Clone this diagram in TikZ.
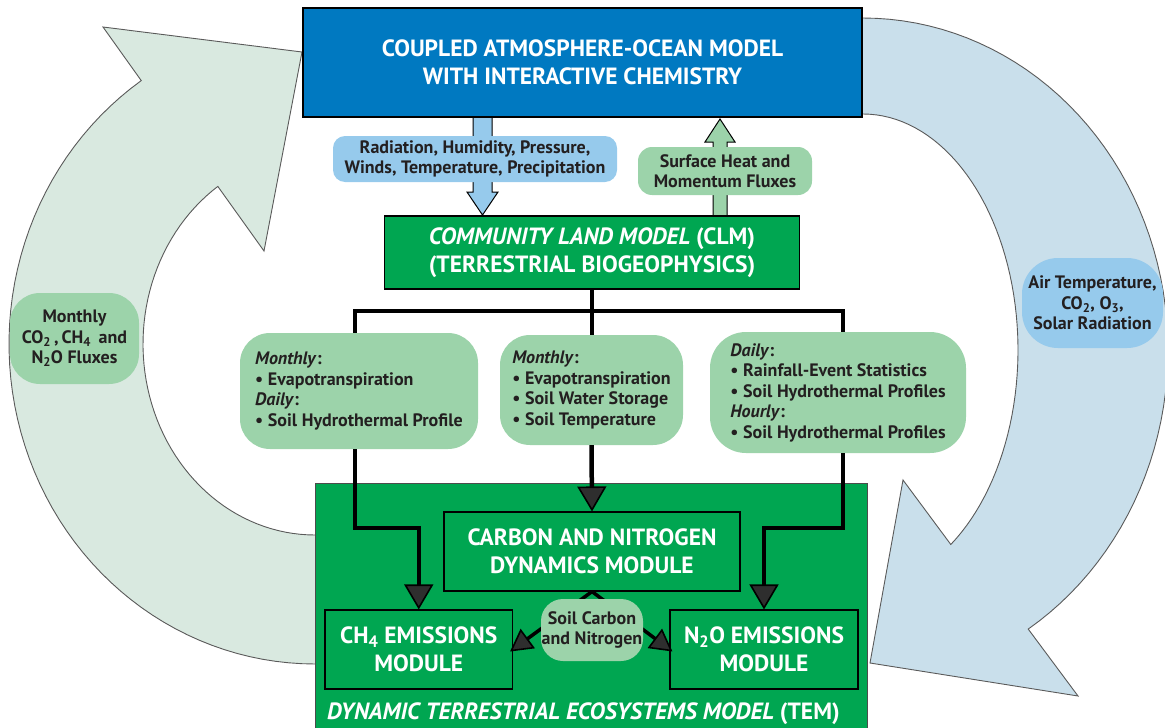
\documentclass[tikz,border=0pt]{standalone}
\usepackage{fontspec}
\setmainfont{PT Sans}
\usetikzlibrary{arrows.meta}
\definecolor{atmblue}{HTML}{0079C1}
\definecolor{modgreen}{HTML}{00A651}
\definecolor{lgreen}{HTML}{9CD3AA}
\definecolor{lblue}{HTML}{96CAEC}
\definecolor{larrow}{HTML}{D9E9E0}
\definecolor{rarrow}{HTML}{C9DFEB}
\definecolor{ink}{HTML}{231F20}
\definecolor{outl}{HTML}{5A5A5A}
\newcommand\bigfont{\fontsize{23.5}{28}\selectfont\bfseries}
\newcommand\smallfont{\fontsize{18}{20.5}\selectfont\bfseries}
\newcommand\tinyfont{\fontsize{18}{20.5}\selectfont\bfseries}
\begin{document}
\begin{tikzpicture}[x=1pt,y=-1pt,
  topbox/.style={draw=black, line width=2pt, fill=atmblue, text=white, font=\bigfont, align=center, inner sep=0pt},
  clmbox/.style={draw=black, line width=1.5pt, fill=modgreen, text=white, font=\bigfont, align=center, inner sep=0pt},
  modbox/.style={draw=black, line width=1.1pt, fill=modgreen, text=white, font=\bigfont, align=center, inner sep=0pt},
  glab/.style={fill=lgreen, text=ink, font=\smallfont, inner sep=0pt},
  blab/.style={fill=lblue, text=ink, font=\smallfont, inner sep=0pt},
  bigarrow/.style={fill=#1, draw=outl, line width=0.9pt, line join=miter},
  fatarrow/.style={fill=#1, draw=black, line width=1pt, line join=miter},
  conn/.style={draw=black, line width=4.5pt},
  flowarr/.style={draw=black, line width=4.5pt, line join=miter, -{Triangle[length=25pt,width=29pt,fill=black!82,line width=1.6pt]}},
  soilarr/.style={draw=black, line width=3.5pt, -{Triangle[length=22pt,width=24pt,fill=black!82,line width=1.6pt]}}
]
\useasboundingbox (0,0) rectangle (1165,728);

% big curved feedback arrows
\path[bigarrow=larrow] (318,664)
  -- plot[domain=90:235.4,samples=60] ({315+306*cos(\x)},{344+320*sin(\x)})
  -- (103,27) -- (302,52) -- (264,251)
  -- plot[domain=235.6:90,samples=60] ({315+172*cos(\x)},{344+191*sin(\x)})
  -- (318,535) -- cycle;
\path[bigarrow=rarrow] (860,18)
  -- plot[domain=-90:57.2,samples=60] ({863+305*cos(\x)},{350+332*sin(\x)})
  -- (1078,696) -- (870,663) -- (903,480)
  -- plot[domain=55.5:-90,samples=60] ({863+155*cos(\x)},{350+236*sin(\x)})
  -- (860,114) -- cycle;

% fat exchange arrows between atmosphere model and CLM
\path[fatarrow=lblue] (473,117) -- (492,117) -- (492,192) -- (498,192) -- (482.5,215) -- (467,192) -- (473,192) -- cycle;
\path[fatarrow=lgreen] (713,216) -- (727,216) -- (727,142) -- (735,142) -- (720,119) -- (705,142) -- (713,142) -- cycle;

% top model
\node[topbox, minimum width=559pt, minimum height=109pt] (atm) at (582.5,62.5)
  {COUPLED ATMOSPHERE-OCEAN MODEL\\WITH INTERACTIVE CHEMISTRY};

\node[blab, rounded corners=12pt, minimum width=284pt, minimum height=46pt, align=center] (rad) at (475,159)
  {Radiation, Humidity, Pressure,\\Winds, Temperature, Precipitation};
\node[glab, rounded corners=14pt, minimum width=174pt, minimum height=48pt, align=center] (surf) at (725,171)
  {Surface Heat and\\Momentum Fluxes};

\node[clmbox, minimum width=415pt, minimum height=73pt] (clm) at (592,252.5)
  {\textit{COMMUNITY LAND MODEL} (CLM)\\(TERRESTRIAL BIOGEOPHYSICS)};

% tree connectors
\coordinate (j) at (592,311);
\coordinate (jl) at (355,311);
\coordinate (jr) at (843,311);
\draw[conn] (clm.south) -- (j);
\draw[conn, line cap=rect] (jl) -- (jr);
\draw[conn] (jl) -- (jl |- 0,340);
\draw[conn] (jr) -- (jr |- 0,340);
\draw[conn] (j) -- (592,340);

% exchange boxes
\node[glab, rounded corners=30pt, minimum width=238pt, minimum height=116pt, align=left] (lbox) at (359,391)
  {\textit{Monthly}:\\\textbullet\ Evapotranspiration\\\textit{Daily}:\\\textbullet\ Soil Hydrothermal Profile};
\node[glab, rounded corners=30pt, minimum width=183pt, minimum height=110pt, align=left] (mbox) at (591.5,390)
  {\textit{Monthly}:\\\textbullet\ Evapotranspiration\\\textbullet\ Soil Water Storage\\\textbullet\ Soil Temperature};
\node[glab, rounded corners=36pt, minimum width=256pt, minimum height=121pt, align=left] (rbox) at (838,392.5)
  {\textit{Daily}:\\\textbullet\ Rainfall-Event Statistics\\\textbullet\ Soil Hydrothermal Profiles\\\textit{Hourly}:\\\textbullet\ Soil Hydrothermal Profiles};

% TEM
\node[draw=black!70, line width=0.8pt, fill=modgreen, minimum width=551.5pt, minimum height=252pt, inner sep=0pt] (tem) at (591.25,609) {};
\node[modbox, minimum width=296pt, minimum height=79pt] (cn) at (592,551.5)
  {CARBON AND NITROGEN\\DYNAMICS MODULE};
\node[modbox, minimum width=187.5pt, minimum height=79pt] (ch4) at (418.75,649.5)
  {CH\textsubscript{4} EMISSIONS\\MODULE};
\node[modbox, minimum width=188pt, minimum height=79pt] (n2o) at (764,649.5)
  {N\textsubscript{2}O EMISSIONS\\MODULE};
\node[text=white, font=\bigfont, anchor=west, inner sep=0pt] (temlabel) at (327,714)
  {\textit{DYNAMIC TERRESTRIAL ECOSYSTEMS MODEL} (TEM)};

% flows into TEM modules
\draw[flowarr] (lbox.south -| jl) -- ++(0,79) -| (ch4.north);
\draw[flowarr] (mbox.south) -- (cn.north);
\draw[flowarr] (rbox.south -| jr) -- ++(0,75) -| (n2o.north);

% soil carbon and nitrogen
\draw[soilarr] (cn.south) -- ([xshift=-3pt,yshift=-2pt]ch4.east);
\draw[soilarr] (cn.south) -- ([xshift=3pt,yshift=-2pt]n2o.west);
\node[glab, font=\tinyfont, rounded corners=22pt, minimum width=102pt, minimum height=62pt, align=center] (soil) at (592,630)
  {Soil Carbon\\and Nitrogen};

% side labels
\node[glab, font=\tinyfont, rounded corners=30pt, minimum width=129pt, minimum height=91pt, align=center] (monthly) at (74.5,338.5)
  {Monthly\\CO\textsubscript{2}\,,\,CH\textsubscript{4}\, and\\N\textsubscript{2}O Fluxes};
\node[blab, font=\tinyfont, rounded corners=36pt, minimum width=141pt, minimum height=90pt, align=center] (air) at (1092.5,303)
  {Air Temperature,\\CO\textsubscript{2}, O\textsubscript{3},\\Solar Radiation};
\end{tikzpicture}
\end{document}
